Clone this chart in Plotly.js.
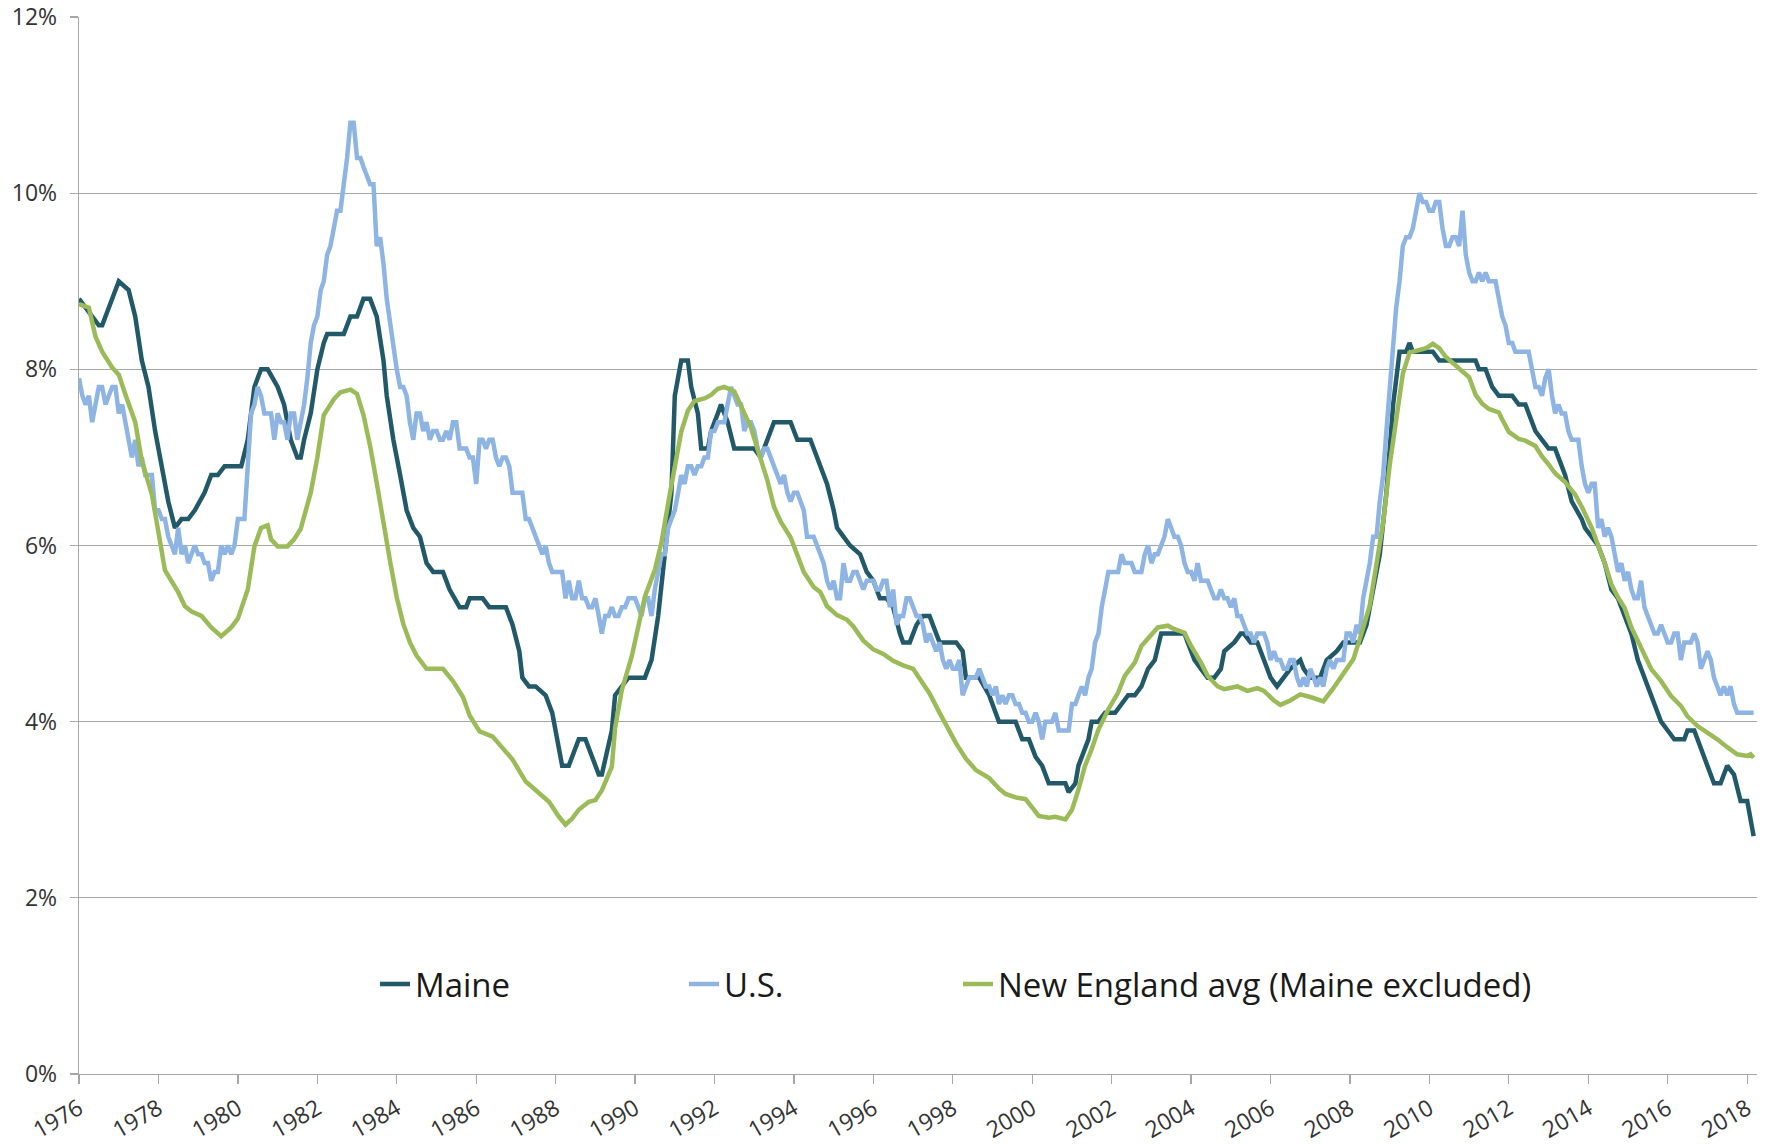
<!DOCTYPE html>
<html>
<head>
<meta charset="utf-8">
<script src="https://cdn.plot.ly/plotly-3.0.1.min.js"></script>
<style>
html,body{margin:0;padding:0;background:#ffffff;}
#chart{width:1772px;height:1146px;}
</style>
</head>
<body>
<div id="chart"></div>
<script>
// ---------------- DATA (unemployment rate, %) ----------------
// Maine (month of reading)
const maineDates = ['1976-01','1976-03','1976-07','1976-08','1976-11','1977-01','1977-04','1977-06','1977-08','1977-10','1977-12',
'1978-02','1978-04','1978-06','1978-08','1978-10','1978-12','1979-03','1979-05','1979-07','1979-09','1980-02','1980-04','1980-06',
'1980-08','1980-10','1981-01','1981-03','1981-05','1981-07','1981-08','1981-09','1981-11','1982-01','1982-03','1982-04','1982-09',
'1982-11','1983-01','1983-03','1983-05','1983-07','1983-09','1983-10','1983-12','1984-02','1984-04','1984-06','1984-08','1984-10',
'1984-12','1985-03','1985-05','1985-08','1985-10','1985-11','1986-03','1986-05','1986-10','1986-12','1987-02','1987-03','1987-05',
'1987-07','1987-10','1987-12','1988-02','1988-03','1988-05','1988-06','1988-08','1988-10','1988-12','1989-02','1989-03','1989-06',
'1989-07','1989-09','1989-11','1990-04','1990-06','1990-08','1990-10','1990-12','1991-01','1991-03','1991-05','1991-06','1991-08',
'1991-09','1991-11','1991-12','1992-02','1992-03','1992-05','1992-07','1992-11','1993-01','1993-03','1993-05','1993-07','1993-12',
'1994-02','1994-06','1994-07','1994-09','1994-11','1995-01','1995-02','1995-04','1995-06','1995-09','1995-11','1996-01','1996-03',
'1996-05','1996-07','1996-09','1996-10','1996-12','1997-02','1997-04','1997-06','1997-07','1997-09','1998-02','1998-04','1998-05',
'1998-07','1998-09','1998-12','1999-03','1999-08','1999-10','1999-12','2000-02','2000-04','2000-06','2000-11','2000-12','2001-02',
'2001-03','2001-06','2001-07','2001-09','2001-11','2002-02','2002-04','2002-06','2002-08','2002-10','2002-12','2003-02','2003-04',
'2003-11','2003-12','2004-02','2004-04','2004-06','2004-08','2004-10','2004-11','2005-02','2005-04','2005-05','2005-07','2005-09',
'2005-11','2006-01','2006-03','2006-05','2006-07','2006-10','2006-11','2007-01','2007-04','2007-06','2007-09','2007-11','2008-04',
'2008-06','2008-08','2008-10','2008-12','2009-02','2009-04','2009-06','2009-07','2009-08','2010-02','2010-04','2010-10','2011-03',
'2011-04','2011-06','2011-08','2011-10','2012-02','2012-04','2012-06','2012-08','2012-09','2012-11','2013-01','2013-03','2013-06',
'2013-08','2013-11','2013-12','2014-02','2014-04','2014-06','2014-08','2014-10','2014-12','2015-02','2015-04','2015-06','2015-09',
'2015-11','2016-01','2016-03','2016-06','2016-07','2016-09','2016-11','2017-01','2017-03','2017-05','2017-07','2017-09','2017-11',
'2018-01','2018-02','2018-03'];
const maineRate = [8.8,8.7,8.5,8.5,8.8,9.0,8.9,8.6,8.1,7.8,7.3,
6.9,6.5,6.2,6.3,6.3,6.4,6.6,6.8,6.8,6.9,6.9,7.2,7.8,
8.0,8.0,7.8,7.6,7.2,7.0,7.0,7.2,7.5,8.0,8.3,8.4,8.4,
8.6,8.6,8.8,8.8,8.6,8.1,7.7,7.2,6.8,6.4,6.2,6.1,5.8,
5.7,5.7,5.5,5.3,5.3,5.4,5.4,5.3,5.3,5.1,4.8,4.5,4.4,
4.4,4.3,4.1,3.7,3.5,3.5,3.6,3.8,3.8,3.6,3.4,3.4,3.9,
4.3,4.4,4.5,4.5,4.7,5.2,5.9,6.6,7.7,8.1,8.1,7.8,7.5,
7.1,7.1,7.3,7.5,7.6,7.4,7.1,7.1,7.1,7.0,7.2,7.4,7.4,
7.2,7.2,7.1,6.9,6.7,6.4,6.2,6.1,6.0,5.9,5.7,5.6,5.4,
5.4,5.3,5.0,4.9,4.9,5.1,5.2,5.2,5.1,4.9,4.9,4.8,4.5,
4.5,4.5,4.3,4.0,4.0,3.8,3.8,3.6,3.5,3.3,3.3,3.2,3.3,
3.5,3.8,4.0,4.0,4.1,4.1,4.2,4.3,4.3,4.4,4.6,4.7,5.0,
5.0,4.9,4.7,4.6,4.5,4.5,4.6,4.8,4.9,5.0,5.0,4.9,4.9,
4.7,4.5,4.4,4.5,4.6,4.7,4.6,4.5,4.5,4.7,4.8,4.9,4.9,
5.1,5.5,5.9,6.6,7.6,8.2,8.2,8.3,8.2,8.2,8.1,8.1,8.1,
8.0,8.0,7.8,7.7,7.7,7.6,7.6,7.4,7.3,7.2,7.1,7.1,6.8,
6.5,6.3,6.2,6.1,6.0,5.8,5.5,5.4,5.2,5.0,4.7,4.5,4.2,
4.0,3.9,3.8,3.8,3.9,3.9,3.7,3.5,3.3,3.3,3.5,3.4,3.1,
3.1,2.9,2.7];

// U.S. (monthly, Jan 1976 - Mar 2018)
const usStart = '1976-01';
const usRate = [
7.9,7.7,7.6,7.7,7.4,7.6,7.8,7.8,7.6,7.7,7.8,7.8,
7.5,7.6,7.4,7.2,7.0,7.2,6.9,7.0,6.8,6.8,6.8,6.4,
6.4,6.3,6.3,6.1,6.0,5.9,6.2,5.9,6.0,5.8,5.9,6.0,
5.9,5.9,5.8,5.8,5.6,5.7,5.7,6.0,5.9,6.0,5.9,6.0,
6.3,6.3,6.3,6.9,7.5,7.6,7.8,7.7,7.5,7.5,7.5,7.2,
7.5,7.4,7.4,7.2,7.5,7.5,7.2,7.4,7.6,7.9,8.3,8.5,
8.6,8.9,9.0,9.3,9.4,9.6,9.8,9.8,10.1,10.4,10.8,10.8,
10.4,10.4,10.3,10.2,10.1,10.1,9.4,9.5,9.2,8.8,8.5,8.3,
8.0,7.8,7.8,7.7,7.4,7.2,7.5,7.5,7.3,7.4,7.2,7.3,
7.3,7.2,7.2,7.3,7.2,7.4,7.4,7.1,7.1,7.1,7.0,7.0,
6.7,7.2,7.2,7.1,7.2,7.2,7.0,6.9,7.0,7.0,6.9,6.6,
6.6,6.6,6.6,6.3,6.3,6.2,6.1,6.0,5.9,6.0,5.8,5.7,
5.7,5.7,5.7,5.4,5.6,5.4,5.4,5.6,5.4,5.4,5.3,5.3,
5.4,5.2,5.0,5.2,5.2,5.3,5.2,5.2,5.3,5.3,5.4,5.4,
5.4,5.3,5.2,5.4,5.4,5.2,5.5,5.7,5.9,5.9,6.2,6.3,
6.4,6.6,6.8,6.7,6.9,6.9,6.8,6.9,6.9,7.0,7.0,7.3,
7.3,7.4,7.4,7.4,7.6,7.8,7.7,7.6,7.6,7.3,7.4,7.4,
7.3,7.1,7.0,7.1,7.1,7.0,6.9,6.8,6.7,6.8,6.6,6.5,
6.6,6.6,6.5,6.4,6.1,6.1,6.1,6.0,5.9,5.8,5.6,5.5,
5.6,5.4,5.4,5.8,5.6,5.6,5.7,5.7,5.6,5.5,5.6,5.6,
5.6,5.5,5.5,5.6,5.6,5.3,5.5,5.1,5.2,5.2,5.4,5.4,
5.3,5.2,5.2,5.1,4.9,5.0,4.9,4.8,4.9,4.7,4.6,4.7,
4.6,4.6,4.7,4.3,4.4,4.5,4.5,4.5,4.6,4.5,4.4,4.4,
4.3,4.4,4.2,4.3,4.2,4.3,4.3,4.2,4.2,4.1,4.1,4.0,
4.0,4.1,4.0,3.8,4.0,4.0,4.0,4.1,3.9,3.9,3.9,3.9,
4.2,4.2,4.3,4.4,4.3,4.5,4.6,4.9,5.0,5.3,5.5,5.7,
5.7,5.7,5.7,5.9,5.8,5.8,5.8,5.7,5.7,5.7,5.9,6.0,
5.8,5.9,5.9,6.0,6.1,6.3,6.2,6.1,6.1,6.0,5.8,5.7,
5.7,5.6,5.8,5.6,5.6,5.6,5.5,5.4,5.4,5.5,5.4,5.4,
5.3,5.4,5.2,5.2,5.1,5.0,5.0,4.9,5.0,5.0,5.0,4.9,
4.7,4.8,4.7,4.7,4.6,4.6,4.7,4.7,4.5,4.4,4.5,4.4,
4.6,4.5,4.4,4.5,4.4,4.6,4.7,4.6,4.7,4.7,4.7,5.0,
5.0,4.9,5.1,5.0,5.4,5.6,5.8,6.1,6.1,6.5,6.8,7.3,
7.8,8.3,8.7,9.0,9.4,9.5,9.5,9.6,9.8,10.0,9.9,9.9,
9.8,9.8,9.9,9.9,9.6,9.4,9.4,9.5,9.5,9.4,9.8,9.3,
9.1,9.0,9.0,9.1,9.0,9.1,9.0,9.0,9.0,8.8,8.6,8.5,
8.3,8.3,8.2,8.2,8.2,8.2,8.2,8.0,7.8,7.8,7.7,7.9,
8.0,7.7,7.5,7.6,7.5,7.5,7.3,7.2,7.2,7.2,6.9,6.7,
6.6,6.7,6.7,6.2,6.3,6.1,6.2,6.1,5.9,5.7,5.8,5.6,
5.7,5.5,5.4,5.4,5.6,5.3,5.2,5.1,5.0,5.0,5.1,5.0,
4.9,4.9,5.0,5.0,4.7,4.9,4.9,4.9,5.0,4.9,4.6,4.7,
4.8,4.7,4.5,4.4,4.3,4.4,4.3,4.4,4.2,4.1,4.1,4.1,
4.1,4.1,4.1];

// New England average, Maine excluded
const neDates = ['1976-01','1976-04','1976-06','1976-08','1976-11','1977-01','1977-03','1977-06','1977-08','1977-11','1978-01',
'1978-03','1978-07','1978-09','1978-11','1979-02','1979-05','1979-08','1979-11','1980-01','1980-04','1980-06','1980-08','1980-10',
'1980-11','1981-01','1981-04','1981-06','1981-08','1981-11','1982-01','1982-03','1982-06','1982-08','1982-11','1983-01','1983-03',
'1983-05','1983-07','1983-09','1983-11','1984-01','1984-03','1984-05','1984-07','1984-10','1985-03','1985-06','1985-09','1985-11',
'1986-02','1986-06','1986-09','1986-12','1987-04','1987-08','1987-11','1988-02','1988-04','1988-06','1988-08','1988-11','1989-01',
'1989-03','1989-06','1989-07','1989-09','1989-12','1990-02','1990-04','1990-07','1990-09','1990-11','1991-01','1991-03','1991-05',
'1991-07','1991-10','1991-12','1992-02','1992-04','1992-07','1992-09','1992-12','1993-03','1993-05','1993-07','1993-09','1993-12',
'1994-02','1994-04','1994-07','1994-09','1994-11','1995-02','1995-05','1995-07','1995-10','1996-01','1996-04','1996-07','1996-10',
'1997-01','1997-03','1997-06','1997-09','1997-11','1998-02','1998-05','1998-08','1998-12','1999-03','1999-05','1999-08','1999-11',
'2000-01','2000-03','2000-06','2000-08','2000-11','2001-01','2001-03','2001-05','2001-07','2001-09','2001-12','2002-03','2002-05',
'2002-08','2002-10','2003-01','2003-03','2003-06','2003-08','2003-11','2004-01','2004-04','2004-06','2004-09','2004-11','2005-03',
'2005-06','2005-09','2005-11','2006-02','2006-04','2006-07','2006-10','2007-01','2007-03','2007-05','2007-08','2007-11','2008-02',
'2008-04','2008-07','2008-09','2008-11','2009-01','2009-03','2009-05','2009-07','2009-09','2009-12','2010-02','2010-04','2010-06',
'2010-08','2010-10','2011-01','2011-03','2011-05','2011-07','2011-10','2011-11','2012-01','2012-04','2012-06','2012-09','2012-11',
'2013-01','2013-03','2013-06','2013-09','2013-11','2014-02','2014-04','2014-06','2014-08','2014-10','2014-12','2015-02','2015-05',
'2015-08','2015-11','2016-02','2016-05','2016-07','2016-10','2017-01','2017-04','2017-07','2017-10','2018-01','2018-02','2018-03'];
const neRate = [8.74,8.70,8.37,8.20,8.02,7.94,7.72,7.40,6.96,6.58,6.15,
5.72,5.47,5.31,5.25,5.20,5.07,4.97,5.07,5.17,5.50,5.99,6.20,6.23,
6.07,5.99,5.99,6.07,6.19,6.60,7.00,7.48,7.66,7.74,7.77,7.72,7.48,
7.13,6.71,6.24,5.82,5.41,5.11,4.90,4.75,4.60,4.60,4.46,4.28,4.07,
3.89,3.83,3.69,3.57,3.32,3.18,3.09,2.92,2.83,2.90,3.00,3.09,3.11,
3.22,3.49,3.93,4.36,4.74,5.07,5.42,5.72,6.04,6.48,6.91,7.29,7.53,
7.64,7.67,7.71,7.78,7.80,7.75,7.59,7.34,6.98,6.74,6.44,6.27,6.09,
5.88,5.70,5.53,5.47,5.31,5.21,5.16,5.08,4.92,4.82,4.77,4.69,4.64,
4.60,4.49,4.32,4.10,3.95,3.75,3.58,3.45,3.36,3.24,3.18,3.14,3.12,
3.02,2.93,2.91,2.92,2.89,3.00,3.23,3.50,3.69,3.91,4.14,4.33,4.52,
4.67,4.86,4.99,5.07,5.09,5.05,5.01,4.86,4.67,4.52,4.40,4.37,4.40,
4.35,4.38,4.35,4.24,4.19,4.24,4.31,4.28,4.26,4.23,4.38,4.54,4.71,
4.94,5.32,5.79,6.26,6.92,7.44,7.95,8.19,8.21,8.24,8.29,8.24,8.14,
8.07,8.00,7.91,7.71,7.61,7.55,7.51,7.43,7.29,7.21,7.19,7.13,7.01,
6.92,6.82,6.72,6.58,6.44,6.20,6.00,5.80,5.56,5.41,5.29,5.07,4.84,
4.60,4.46,4.29,4.18,4.06,3.95,3.88,3.80,3.71,3.63,3.61,3.63,3.59];

const seriesNames = ['Maine', 'U.S.', 'New England avg (Maine excluded)'];
const yTickValues = [0, 2, 4, 6, 8, 10, 12];

// ---------------- BUILD ----------------
function monthlyDates(start, n) {
  const [y0, m0] = start.split('-').map(Number);
  const out = [];
  for (let i = 0; i < n; i++) {
    const t = (m0 - 1) + i;
    const y = y0 + Math.floor(t / 12);
    const m = (t % 12) + 1;
    out.push(y + '-' + (m < 10 ? '0' + m : m) + '-01');
  }
  return out;
}
const usDates = monthlyDates(usStart, usRate.length);

const FONT = '"Open Sans", "Noto Sans", sans-serif';
const LINEW = 4.5;

const traces = [
  { type: 'scatter', mode: 'lines', name: seriesNames[0], x: maineDates, y: maineRate,
    line: { color: '#215968', width: LINEW }, legend: 'legend', hoverinfo: 'skip' },
  { type: 'scatter', mode: 'lines', name: seriesNames[1], x: usDates, y: usRate,
    line: { color: '#8DB4E2', width: LINEW }, legend: 'legend2', hoverinfo: 'skip' },
  { type: 'scatter', mode: 'lines', name: seriesNames[2], x: neDates, y: neRate,
    line: { color: '#9BBB59', width: LINEW }, legend: 'legend3', hoverinfo: 'skip' }
];

const PLOT_L = 79, PLOT_W = 1678;
function legX(textStartPx) { return (textStartPx - 40 - PLOT_L) / PLOT_W; }
const legCommon = {
  orientation: 'h', yanchor: 'middle', xanchor: 'left', y: 0.085,
  bgcolor: 'rgba(0,0,0,0)', borderwidth: 0,
  font: { family: FONT, size: 33, color: '#1a1a1a' }
};

const layout = {
  width: 1772, height: 1146,
  margin: { l: 79, r: 15, t: 17, b: 72, pad: 0 },
  paper_bgcolor: '#ffffff', plot_bgcolor: '#ffffff',
  font: { family: FONT, color: '#404040' },
  showlegend: true,
  xaxis: {
    type: 'date', range: ['1976-01-01', '2018-04-01'],
    tick0: '1976-01-01', dtick: 'M24', tickformat: '%Y', tickangle: -30,
    ticks: 'outside', ticklen: 9, tickwidth: 1.3, tickcolor: '#A6A6A6',
    showline: true, linecolor: '#A6A6A6', linewidth: 1.3,
    showgrid: false, zeroline: false,
    ticklabelstandoff: 2,
    tickfont: { family: FONT, size: 23, color: '#333333' }
  },
  yaxis: {
    range: [0, 12], tickmode: 'array', tickvals: yTickValues,
    ticktext: yTickValues.map(v => v + '%'),
    ticks: 'outside', ticklen: 8, tickwidth: 1.3, tickcolor: '#A6A6A6',
    showline: true, linecolor: '#A6A6A6', linewidth: 1.3,
    showgrid: true, gridcolor: '#A6A6A6', gridwidth: 1.3, zeroline: false,
    ticklabelstandoff: 8,
    tickfont: { family: FONT, size: 23, color: '#333333' }
  },
  legend:  Object.assign({}, legCommon, { x: legX(415) }),
  legend2: Object.assign({}, legCommon, { x: legX(724) }),
  legend3: Object.assign({}, legCommon, { x: legX(998) })
};

Plotly.newPlot('chart', traces, layout, { staticPlot: true, displayModeBar: false });
</script>
</body>
</html>
